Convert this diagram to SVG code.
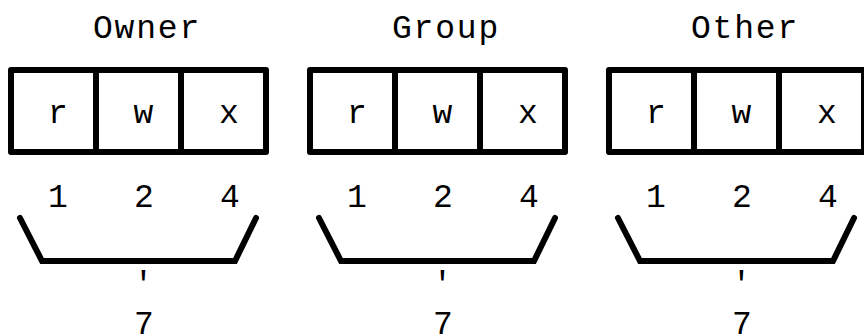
<svg xmlns="http://www.w3.org/2000/svg" width="864" height="336" viewBox="0 0 864 336">
<style>
.t{font-family:"Liberation Mono","Courier New",monospace;font-size:33px;fill:#000;text-anchor:middle}
.h{letter-spacing:1.8px}
.box{fill:#fff;stroke:#000;stroke-width:6;stroke-linejoin:round}
.ln{stroke:#000;stroke-width:6;fill:none}
.br{stroke:#000;stroke-width:6;fill:none;stroke-linecap:round;stroke-linejoin:miter}
</style>
<rect width="864" height="336" fill="#fff"/>
<g id="owner">
<text class="t h" x="147" y="38">Owner</text>
<rect class="box" x="11" y="70" width="255" height="82"/>
<line class="ln" x1="96" y1="70" x2="96" y2="152"/>
<line class="ln" x1="181" y1="70" x2="181" y2="152"/>
<text class="t" x="58" y="123">r</text>
<text class="t" x="143.5" y="123">w</text>
<text class="t" x="229" y="123">x</text>
<text class="t" x="58" y="207">1</text>
<text class="t" x="144" y="207">2</text>
<text class="t" x="230" y="207">4</text>
<polyline class="br" points="20,218 42,261 235,261 256,218"/>
<text class="t" x="143.5" y="294">'</text>
<text class="t" x="144" y="334">7</text>
</g>
<g id="group" transform="translate(299,0)">
<text class="t h" x="147" y="38">Group</text>
<rect class="box" x="11" y="70" width="255" height="82"/>
<line class="ln" x1="96" y1="70" x2="96" y2="152"/>
<line class="ln" x1="181" y1="70" x2="181" y2="152"/>
<text class="t" x="58" y="123">r</text>
<text class="t" x="143.5" y="123">w</text>
<text class="t" x="229" y="123">x</text>
<text class="t" x="58" y="207">1</text>
<text class="t" x="144" y="207">2</text>
<text class="t" x="230" y="207">4</text>
<polyline class="br" points="20,218 42,261 235,261 256,218"/>
<text class="t" x="143.5" y="294">'</text>
<text class="t" x="144" y="334">7</text>
</g>
<g id="other" transform="translate(598,0)">
<text class="t h" x="147" y="38">Other</text>
<rect class="box" x="11" y="70" width="255" height="82"/>
<line class="ln" x1="96" y1="70" x2="96" y2="152"/>
<line class="ln" x1="181" y1="70" x2="181" y2="152"/>
<text class="t" x="58" y="123">r</text>
<text class="t" x="143.5" y="123">w</text>
<text class="t" x="229" y="123">x</text>
<text class="t" x="58" y="207">1</text>
<text class="t" x="144" y="207">2</text>
<text class="t" x="230" y="207">4</text>
<polyline class="br" points="20,218 42,261 235,261 256,218"/>
<text class="t" x="143.5" y="294">'</text>
<text class="t" x="144" y="334">7</text>
</g>
</svg>
